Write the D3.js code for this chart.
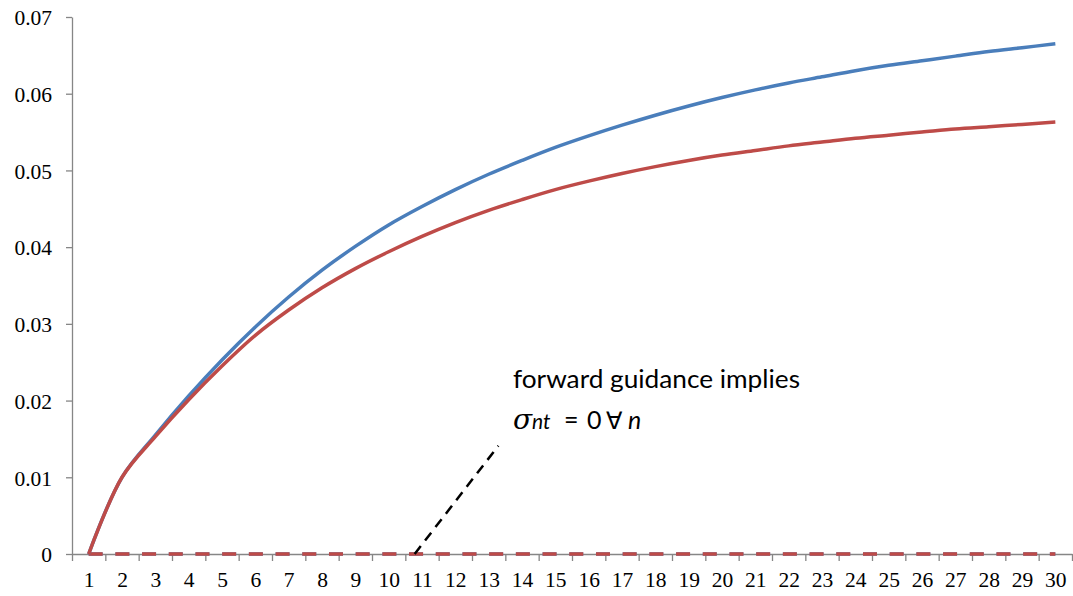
<!DOCTYPE html>
<html>
<head>
<meta charset="utf-8">
<script src="https://cdn.jsdelivr.net/npm/d3@7/dist/d3.min.js"></script>
<style>
  html, body { margin: 0; padding: 0; background: #fff; }
  svg { display: block; }
</style>
</head>
<body>
<svg id="chart" width="1073" height="596"></svg>
<script>
// ---- data ----
const categories = d3.range(1, 31);
const seriesBlue = [0, 0.0100, 0.0155, 0.0206, 0.0253, 0.0296, 0.0335, 0.0370, 0.0401, 0.0429,
  0.0453, 0.0475, 0.0495, 0.0513, 0.0530, 0.0545, 0.0559, 0.0572, 0.0584, 0.0595,
  0.0605, 0.0614, 0.0622, 0.0630, 0.0637, 0.0643, 0.0649, 0.0655, 0.0660, 0.0665];
const seriesRed = [0, 0.0100, 0.0153, 0.0201, 0.0245, 0.0285, 0.0318, 0.0347, 0.0372, 0.0394,
  0.0414, 0.0432, 0.0448, 0.0462, 0.0475, 0.0486, 0.0496, 0.0505, 0.0513, 0.0520,
  0.0526, 0.0532, 0.0537, 0.0542, 0.0546, 0.0550, 0.0554, 0.0557, 0.0560, 0.0563];
const seriesBlueFG = categories.map(() => 0);
const seriesRedFG = categories.map(() => 0);
const yTicks = [0, 0.01, 0.02, 0.03, 0.04, 0.05, 0.06, 0.07];
const yTickLabels = ["0", "0.01", "0.02", "0.03", "0.04", "0.05", "0.06", "0.07"];
const annotationLine1 = "forward guidance implies";

// ---- layout ----
const svg = d3.select("#chart");
const mLeft = 72, mRight = 1072, mTop = 17, mBottom = 554;
const x = d3.scaleLinear().domain([0.5, 30.5]).range([mLeft, mRight]);
const y = d3.scaleLinear().domain([0, 0.07]).range([mBottom, mTop]);
const axisColor = "#868686";
const blue = "#4A7EBB", red = "#BE4B48";

// y axis
const yAxis = svg.append("g").attr("transform", `translate(${mLeft},0)`)
  .call(d3.axisLeft(y).tickValues(yTicks).tickSize(6).tickSizeOuter(0)
    .tickFormat((d, i) => yTickLabels[i]).tickPadding(14));
// x axis: tick marks at category boundaries
const xAxisMarks = svg.append("g").attr("transform", `translate(0,${mBottom})`)
  .call(d3.axisBottom(x).tickValues(d3.range(0.5, 31, 1)).tickSize(7).tickSizeOuter(0).tickFormat(""));
const xAxisLabels = svg.append("g").attr("transform", `translate(0,${mBottom})`)
  .call(d3.axisBottom(x).tickValues(categories).tickSize(0).tickFormat(d => String(d)).tickPadding(18));
xAxisLabels.select(".domain").remove();

[yAxis, xAxisMarks, xAxisLabels].forEach(g => {
  g.selectAll("path.domain").attr("stroke", axisColor).attr("stroke-width", 1.3);
  g.selectAll(".tick line").attr("stroke", axisColor).attr("stroke-width", 1.3);
  g.selectAll("text").attr("fill", "#000")
    .style("font-family", "'Liberation Serif', 'Times New Roman', serif")
    .style("font-size", "21.5px");
});
yAxis.selectAll("text").attr("dy", "0.36em");
xAxisLabels.selectAll("text").attr("dy", "0.71em");

// lines
const smooth = d3.line()
  .x((d, i) => x(categories[i]))
  .y(d => y(d))
  .curve(d3.curveCatmullRom.alpha(0.5));
const straight = d3.line()
  .x((d, i) => x(categories[i]))
  .y(d => y(d));

const plot = svg.append("g");
plot.append("path").datum(seriesBlueFG).attr("d", straight)
  .attr("fill", "none").attr("stroke", blue).attr("stroke-width", 3.5)
  .attr("stroke-dasharray", "14,12.7");
plot.append("path").datum(seriesRedFG).attr("d", straight)
  .attr("fill", "none").attr("stroke", red).attr("stroke-width", 3.5)
  .attr("stroke-dasharray", "14,12.7");
plot.append("path").datum(seriesBlue).attr("d", smooth)
  .attr("fill", "none").attr("stroke", blue).attr("stroke-width", 3.5)
  .attr("stroke-linejoin", "round").attr("stroke-linecap", "butt");
plot.append("path").datum(seriesRed).attr("d", smooth)
  .attr("fill", "none").attr("stroke", red).attr("stroke-width", 3.5)
  .attr("stroke-linejoin", "round").attr("stroke-linecap", "butt");

// annotation
const annX0 = x(10.78), annY0 = y(0);
const annX1 = x(13.29), annY1 = y(0.0141);
svg.append("line")
  .attr("x1", annX0).attr("y1", annY0).attr("x2", annX1).attr("y2", annY1)
  .attr("stroke", "#000").attr("stroke-width", 2.5).attr("stroke-dasharray", "10,7");

svg.append("text").attr("x", 513).attr("y", 388)
  .attr("textLength", 287).attr("lengthAdjust", "spacingAndGlyphs")
  .style("font-family", "Lato, 'Open Sans', sans-serif").style("font-size", "25px")
  .attr("fill", "#000").text(annotationLine1);

const t2 = svg.append("text").attr("y", 429).attr("fill", "#000")
  .style("font-family", "Lato, sans-serif").style("font-size", "25px");
t2.append("tspan").attr("x", 513).style("font-family", "'DejaVu Serif', serif").style("font-style", "italic")
  .style("font-size", "28px").text("σ");
t2.append("tspan").attr("x", 532).style("font-style", "italic")
  .style("font-size", "21px").text("nt");
t2.append("tspan").attr("x", 564).text("=");
t2.append("tspan").attr("x", 587).text("0");
t2.append("tspan").attr("x", 606).style("font-family", "'DejaVu Sans', sans-serif").style("font-size", "24px").text("∀");
t2.append("tspan").attr("x", 628).style("font-style", "italic").text("n");
</script>
</body>
</html>
